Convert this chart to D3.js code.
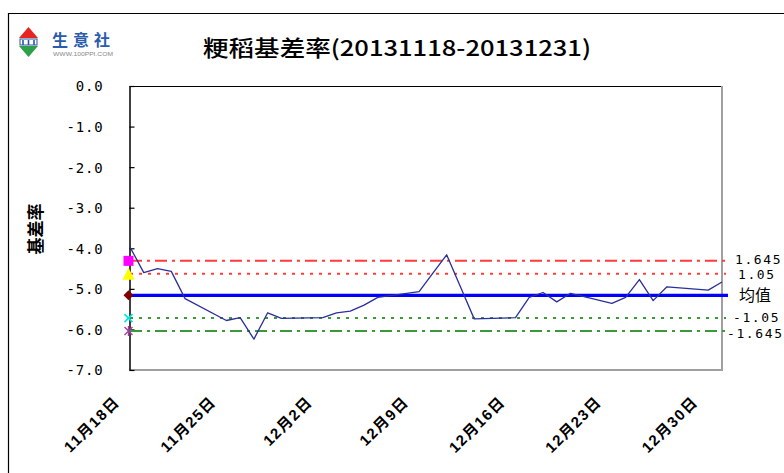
<!DOCTYPE html>
<html>
<head>
<meta charset="utf-8">
<script src="https://cdn.jsdelivr.net/npm/d3@7"></script>
<style>
  html, body { margin: 0; padding: 0; background: #fff; }
  svg { display: block; }
</style>
</head>
<body>
<svg id="chart" width="784" height="473"></svg>
<script>
// ---------- data ----------
const titleText = "粳稻基差率(20131118-20131231)";
const yAxisTitle = "基差率";
const dates = [
  "2013-11-18","2013-11-19","2013-11-20","2013-11-21","2013-11-22",
  "2013-11-25","2013-11-26","2013-11-27","2013-11-28","2013-11-29",
  "2013-12-02","2013-12-03","2013-12-04","2013-12-05","2013-12-06",
  "2013-12-09","2013-12-10","2013-12-11","2013-12-12","2013-12-13",
  "2013-12-16","2013-12-17","2013-12-18","2013-12-19","2013-12-20",
  "2013-12-23","2013-12-24","2013-12-25","2013-12-26","2013-12-27",
  "2013-12-30","2013-12-31"
];
const values = [
  -3.97, -4.60, -4.50, -4.57, -5.24,
  -5.78, -5.71, -6.24, -5.59, -5.73,
  -5.71, -5.59, -5.55, -5.40, -5.21,
  -5.07, -4.61, -4.16, -4.95, -5.74,
  -5.71, -5.21, -5.09, -5.32, -5.11,
  -5.36, -5.21, -4.77, -5.29, -4.95,
  -5.03, -4.83
];
const xTickDates = ["2013-11-18","2013-11-25","2013-12-02","2013-12-09","2013-12-16","2013-12-23","2013-12-30"];
const yTicks = [0, -1, -2, -3, -4, -5, -6, -7];
const refLabels = ["1.645", "1.05", "均值", "-1.05", "-1.645"];
const refValues = [-4.31, -4.63, -5.16, -5.72, -6.04];

// ---------- layout / style (not data) ----------
const refStyles = [
  { color: "#ff3b3b", width: 2, dash: "12,5,3,5", marker: "square",   mcolor: "#ff00ff", lx: 735, dy: -1.5, font: "mono" },
  { color: "#ff3b3b", width: 2, dash: "3,6",      marker: "triangle", mcolor: "#ffff00", lx: 738, dy: 0.5,  font: "mono" },
  { color: "#0000ff", width: 3.2, dash: null,     marker: "diamond",  mcolor: "#800000", lx: 739, dy: 0.5,  font: "cjk" },
  { color: "#3a9a3a", width: 2, dash: "3,6",      marker: "cross",    mcolor: "#00e5e5", lx: 733, dy: -1,   font: "mono" },
  { color: "#3a9a3a", width: 2, dash: "12,5,3,5", marker: "star",     mcolor: "#a040a0", lx: 727, dy: 2,    font: "mono" }
];

const parse = d3.timeParse("%Y-%m-%d");
const svg = d3.select("#chart");
svg.append("rect").attr("width", 784).attr("height", 473).attr("fill", "#fff");

// outer frame
svg.append("path").attr("d", "M8.5,473 V13.5 H784").attr("fill", "none").attr("stroke", "#000").attr("stroke-width", 1.2);

const plot = { left: 129.5, right: 722, top: 86, bottom: 370 };

const x = d3.scaleTime()
  .domain([parse(dates[0]), parse(dates[dates.length - 1])])
  .range([130, plot.right]);
const y = d3.scaleLinear().domain([-7, 0]).range([plot.bottom, plot.top]);

// logo
const logo = svg.append("g");
logo.append("path").attr("d", "M19,38 L28.5,27 L38,38 Z").attr("fill", "#e52420");
logo.append("rect").attr("x", 20).attr("y", 39).attr("width", 17).attr("height", 6).attr("fill", "#fff").attr("stroke", "#2b57a5").attr("stroke-width", 1);
logo.append("path").attr("d", "M23,40 V45 M28.5,40 V45 M34,40 V45").attr("stroke", "#2b57a5").attr("stroke-width", 1.6);
logo.append("path").attr("d", "M19,46 L38,46 L28.5,57 Z").attr("fill", "#2fa04a");
logo.append("text").attr("x", 52).attr("y", 46).text("生意社")
  .attr("font-family", "'Noto Sans CJK SC'").attr("font-weight", "bold").attr("font-size", 16)
  .attr("letter-spacing", 5).attr("fill", "#2a5cab");
logo.append("text").attr("x", 53).attr("y", 56).text("WWW.100PPI.COM")
  .attr("font-family", "Liberation Sans").attr("font-size", 5.5).attr("fill", "#888")
  .attr("textLength", 60).attr("lengthAdjust", "spacingAndGlyphs");

// title
svg.append("text").attr("x", 203).attr("y", 56).text(titleText)
  .attr("font-family", "'Noto Sans CJK SC'").attr("font-weight", 500).attr("font-size", 22).attr("fill", "#000")
  .attr("textLength", 388).attr("lengthAdjust", "spacingAndGlyphs");

// y axis title
svg.append("text").attr("transform", "translate(42,229) rotate(-90)")
  .attr("text-anchor", "middle").text(yAxisTitle)
  .attr("font-family", "'Noto Sans CJK SC'").attr("font-weight", "bold").attr("font-size", 17).attr("fill", "#000");

// plot borders
svg.append("line").attr("x1", plot.left).attr("x2", plot.right).attr("y1", plot.top + 0.5).attr("y2", plot.top + 0.5).attr("stroke", "#000").attr("stroke-width", 1.2);
svg.append("line").attr("x1", plot.right).attr("x2", plot.right).attr("y1", plot.top).attr("y2", plot.bottom).attr("stroke", "#a0a0a0").attr("stroke-width", 2);
svg.append("line").attr("x1", plot.left).attr("x2", plot.right + 1).attr("y1", plot.bottom).attr("y2", plot.bottom).attr("stroke", "#a0a0a0").attr("stroke-width", 2);

// y axis
const yAxis = d3.axisLeft(y).tickValues(yTicks).tickFormat(d3.format(".1f"))
  .tickSizeInner(-5).tickSizeOuter(0).tickPadding(26);
const gy = svg.append("g").attr("transform", `translate(${plot.left},0)`).call(yAxis);
gy.select(".domain").attr("stroke", "#000").attr("stroke-width", 1.5);
gy.selectAll(".tick line").attr("stroke", "#000").attr("stroke-width", 1.2);
gy.selectAll(".tick text").text(d => d3.format(".1f")(d).replace("−", "-"))
  .attr("font-family", "'DejaVu Sans Mono'").attr("font-size", 14).attr("letter-spacing", 0.8)
  .attr("fill", "#000").attr("dy", "0.35em");

// x axis labels
const xAxis = d3.axisBottom(x).tickValues(xTickDates.map(parse))
  .tickFormat(d3.timeFormat("%-m月%-d日")).tickSize(0);
const gx = svg.append("g").attr("transform", `translate(0,${plot.bottom})`).call(xAxis);
gx.select(".domain").remove();
gx.selectAll(".tick text")
  .attr("x", 0).attr("y", 0).attr("dy", 0)
  .attr("transform", "translate(-10,33) rotate(-45)")
  .style("text-anchor", "end")
  .attr("font-family", "'Liberation Sans','Noto Sans CJK SC'").attr("font-weight", "bold")
  .attr("font-size", 15).attr("letter-spacing", 1.4).attr("fill", "#000");

// reference lines
refValues.forEach((v, i) => {
  const s = refStyles[i];
  const ln = svg.append("line")
    .attr("x1", 130).attr("x2", i === 2 ? 728 : 726)
    .attr("y1", y(v)).attr("y2", y(v))
    .attr("stroke", s.color).attr("stroke-width", s.width);
  if (s.dash) ln.attr("stroke-dasharray", s.dash);
});

// data line
const pts = dates.map((d, i) => ({ date: parse(d), value: values[i] }));
svg.append("path").datum(pts)
  .attr("fill", "none").attr("stroke", "#2b2f9c").attr("stroke-width", 1.3)
  .attr("stroke-linejoin", "round")
  .attr("d", d3.line().x(d => x(d.date)).y(d => y(d.value)));

// markers at the left axis and labels on the right
refValues.forEach((v, i) => {
  const s = refStyles[i];
  const cx = 128.5, cy = y(v);
  const g = svg.append("g").attr("transform", `translate(${cx},${cy})`);
  if (s.marker === "square") {
    g.append("rect").attr("x", -5).attr("y", -5).attr("width", 10).attr("height", 10).attr("fill", s.mcolor);
  } else if (s.marker === "triangle") {
    g.append("path").attr("d", "M-6,6 L0,-6 L6,6 Z").attr("fill", s.mcolor);
  } else if (s.marker === "diamond") {
    g.append("path").attr("d", "M-5,0 L0,-5 L5,0 L0,5 Z").attr("fill", s.mcolor);
  } else if (s.marker === "cross") {
    g.append("path").attr("d", "M-4,-4 L4,4 M-4,4 L4,-4").attr("stroke", s.mcolor).attr("stroke-width", 1.6);
  } else {
    g.append("path").attr("d", "M-4,-4 L4,4 M-4,4 L4,-4 M0,-5 V5").attr("stroke", s.mcolor).attr("stroke-width", 1.4);
  }
  const t = svg.append("text").attr("x", s.lx).attr("y", cy + s.dy).attr("dy", "0.35em").text(refLabels[i]).attr("fill", "#000");
  if (s.font === "mono") {
    t.attr("font-family", "'DejaVu Sans Mono'").attr("font-size", 13).attr("letter-spacing", 1.6);
  } else {
    t.attr("font-family", "'Noto Sans CJK SC'").attr("font-size", 16);
  }
});
</script>
</body>
</html>
